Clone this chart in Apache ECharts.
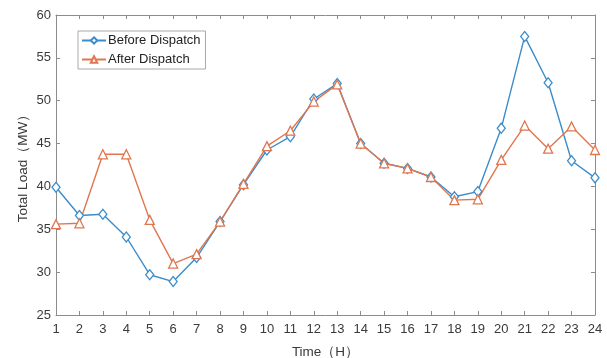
<!DOCTYPE html>
<html>
<head>
<meta charset="utf-8">
<script src="https://cdn.jsdelivr.net/npm/echarts@6/dist/echarts.min.js"></script>
<style>
  html, body { margin: 0; padding: 0; background: #fff; }
  #chart { width: 607px; height: 358px; }
</style>
</head>
<body>
<div id="chart"></div>
<script>
// Hourly total load (MW), before and after dispatch
var hours = ['1','2','3','4','5','6','7','8','9','10','11','12','13','14','15','16','17','18','19','20','21','22','23','24'];
var beforeDispatch = [39.9, 36.6, 36.75, 34.1, 29.7, 28.9, 31.7, 35.9, 40.2, 44.25, 45.8, 50.2, 52.0, 45.0, 42.7, 42.1, 41.1, 38.8, 39.4, 46.8, 57.5, 52.1, 43.0, 41.0];
var afterDispatch  = [35.6, 35.7, 43.75, 43.75, 36.1, 31.0, 32.1, 35.9, 40.3, 44.7, 46.5, 49.9, 51.9, 45.0, 42.7, 42.1, 41.1, 38.4, 38.5, 43.1, 47.1, 44.4, 47.0, 44.25];
var seriesNames = ['Before Dispatch', 'After Dispatch'];

var blue = '#3b8ccb';
var orange = '#e0764f';
var axisColor = '#8c8c8c';
var textColor = '#3a3a3a';
var fontFamily = 'Liberation Sans, Arial, sans-serif';

var chart = echarts.init(document.getElementById('chart'));

function makeSeries(name, data, color, symbol) {
  return {
    name: name,
    type: 'line',
    data: data,
    symbol: symbol,
    symbolSize: symbol === 'diamond' ? [8, 10] : 9,
    showAllSymbol: true,
    lineStyle: { color: color, width: 1.4 },
    itemStyle: { color: '#fff', borderColor: color, borderWidth: 1.3 },
    emphasis: { disabled: true },
    z: 3
  };
}

chart.setOption({
  animation: false,
  backgroundColor: '#fff',
  textStyle: { fontFamily: fontFamily },
  grid: { left: 56, right: 12, top: 15, bottom: 43, containLabel: false, outerBoundsMode: 'none' },
  legend: {
    data: seriesNames,
    orient: 'vertical',
    left: 78,
    top: 31,
    itemWidth: 24,
    itemHeight: 8,
    itemGap: 6,
    padding: [3, 5, 3, 3],
    borderColor: '#aaaaaa',
    borderWidth: 1,
    backgroundColor: '#fff',
    textStyle: { color: '#222', fontSize: 13, fontFamily: fontFamily, padding: [0, 0, 0, -3] }
  },
  xAxis: [{
    type: 'category',
    data: hours,
    boundaryGap: false,
    name: 'Time（H）',
    nameLocation: 'middle',
    nameGap: 30,
    nameMoveOverlap: false,
    nameTextStyle: { color: textColor, fontSize: 13.5, fontFamily: fontFamily },
    axisLine: { lineStyle: { color: axisColor, width: 1 } },
    axisTick: { inside: true, length: 4, alignWithLabel: true, lineStyle: { color: axisColor } },
    axisLabel: { color: textColor, fontSize: 13, margin: 8, interval: 0 },
    splitLine: { show: false }
  }, {
    type: 'category',
    data: hours,
    boundaryGap: false,
    position: 'top',
    axisLine: { lineStyle: { color: axisColor, width: 1 } },
    axisTick: { inside: true, length: 4, lineStyle: { color: axisColor } },
    axisLabel: { show: false },
    splitLine: { show: false }
  }],
  yAxis: [{
    type: 'value',
    min: 25,
    max: 60,
    interval: 5,
    name: 'Total Load（MW）',
    nameLocation: 'middle',
    nameGap: 26,
    nameMoveOverlap: false,
    nameTextStyle: { color: textColor, fontSize: 13.5, fontFamily: fontFamily },
    axisLine: { show: true, lineStyle: { color: axisColor, width: 1 } },
    axisTick: { show: true, inside: true, length: 4, lineStyle: { color: axisColor } },
    axisLabel: { color: textColor, fontSize: 13, margin: 5 },
    splitLine: { show: false }
  }, {
    type: 'value',
    min: 25,
    max: 60,
    interval: 5,
    position: 'right',
    axisLine: { show: true, lineStyle: { color: axisColor, width: 1 } },
    axisTick: { show: true, inside: true, length: 4, lineStyle: { color: axisColor } },
    axisLabel: { show: false },
    splitLine: { show: false }
  }],
  series: [
    makeSeries(seriesNames[0], beforeDispatch, blue, 'diamond'),
    makeSeries(seriesNames[1], afterDispatch, orange, 'triangle')
  ]
});
</script>
</body>
</html>
